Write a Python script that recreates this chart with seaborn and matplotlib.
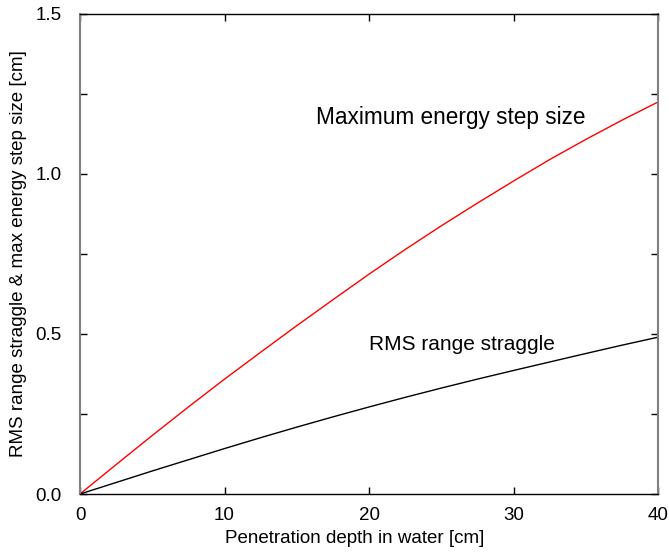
import numpy as np
import pandas as pd
import seaborn as sns
import matplotlib
matplotlib.use("Agg")
import matplotlib.pyplot as plt
from matplotlib.ticker import MultipleLocator

# penetration depth in water [cm]
depth = [0, 2.5, 5, 7.5, 10, 12.5, 15, 17.5, 20, 22.5, 25, 27.5, 30, 32.5, 35, 37.5, 40]
# maximum energy step size [cm]
max_step = [0, 0.092, 0.183, 0.272, 0.359, 0.443, 0.526, 0.607, 0.687, 0.764,
            0.838, 0.909, 0.978, 1.045, 1.108, 1.168, 1.225]
# RMS range straggle [cm]
rms_straggle = [0, 0.036, 0.072, 0.107, 0.142, 0.176, 0.209, 0.241, 0.272, 0.302,
                0.331, 0.359, 0.386, 0.4125, 0.439, 0.465, 0.49]

df = pd.DataFrame({"depth": depth, "step": max_step, "rms": rms_straggle})

sns.set_style("ticks")
plt.rcParams['font.family'] = ['Liberation Sans', 'DejaVu Sans']
plt.rcParams['text.color'] = 'black'
plt.rcParams['axes.labelcolor'] = 'black'
plt.rcParams['xtick.color'] = 'black'
plt.rcParams['ytick.color'] = 'black'

fig = plt.figure(figsize=(6.69, 5.55), dpi=100)
ax = fig.add_axes([0.1196, 0.1099, 0.864, 0.8649])

sns.lineplot(data=df, x="depth", y="step", color="#ff0000", linewidth=1.0, ax=ax)
sns.lineplot(data=df, x="depth", y="rms", color="black", linewidth=1.0, ax=ax)

ax.set_xlim(0, 40)
ax.set_ylim(0, 1.5)
ax.set_xticks([0, 10, 20, 30, 40])
ax.set_yticks([0.0, 0.5, 1.0, 1.5])
ax.set_yticklabels(["0.0", "0.5", "1.0", "1.5"])
ax.yaxis.set_minor_locator(MultipleLocator(0.25))
ax.tick_params(axis="both", which="both", direction="in", top=True, right=True,
               length=5, width=1, labelsize=13.5, colors="black")
ax.tick_params(axis="x", pad=9)
ax.tick_params(axis="y", pad=13)

for side in ["left", "right"]:
    ax.spines[side].set_color("#808080")
    ax.spines[side].set_linewidth(1.5)
for side in ["top", "bottom"]:
    ax.spines[side].set_color("black")
    ax.spines[side].set_linewidth(1.0)

ax.set_xlabel("Penetration depth in water [cm]", fontsize=13.5, labelpad=6)
ax.set_ylabel("RMS range straggle & max energy step size [cm]", fontsize=13.5, labelpad=6)
ax.xaxis.set_label_coords(0.475, -0.075)

ax.text(16.3, 1.178, "Maximum energy step size", fontsize=16.3, va="center", ha="left")
ax.text(20.0, 0.466, "RMS range straggle", fontsize=15.0, va="center", ha="left")

fig.savefig("out.png", dpi=100)
